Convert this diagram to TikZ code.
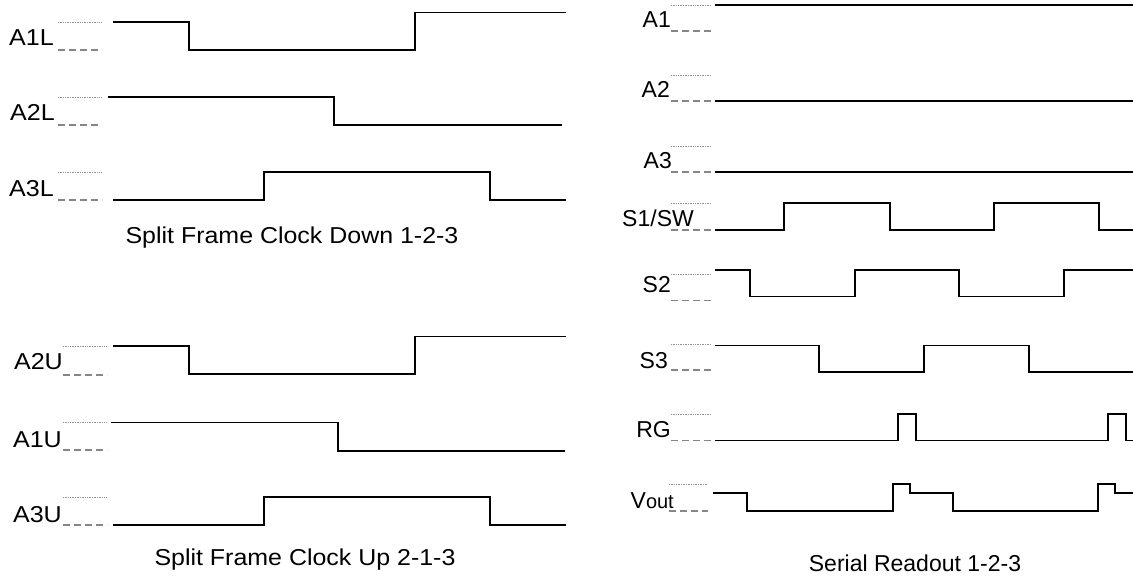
\documentclass[tikz,border=0pt]{standalone}
\usepackage{fontspec}
\setmainfont{Liberation Sans}
\begin{document}
\begin{tikzpicture}[x=1pt,y=-1pt,
  sig/.style={draw=black,line width=1.2pt,line join=miter},
  dotline/.style={draw=gray!85,line width=0.8pt,dash pattern=on 1pt off 0.7pt},
  dashline/.style={draw=gray!95,line width=1.1pt,dash pattern=on 7pt off 4pt},
  lbl/.style={anchor=base east,inner sep=0pt,font=\fontsize{23}{27}\selectfont},
  captxt/.style={anchor=base,inner sep=0pt,font=\fontsize{23}{27}\selectfont}]
\useasboundingbox (0,0) rectangle (1133,578);
\newcommand\reflines[4]{\draw[dotline] (#1,#3) -- (#2,#3); \draw[dashline] (#1,#4) -- (#2,#4);}
% ---------- left top: Split Frame Clock Down ----------
\reflines{58}{102}{22}{50}
\reflines{58}{102}{97}{125}
\reflines{58}{102}{172}{200}
\node[lbl] (a1l) at (54,46) {\scalebox{1.09}[1]{A1L}};
\node[lbl] (a2l) at (55,121) {\scalebox{1.09}[1]{A2L}};
\node[lbl] (a3l) at (54,196) {\scalebox{1.09}[1]{A3L}};
\draw[sig] (113,22) -- (189,22) -- (189,50) -- (415,50) -- (415,12.7) -- (566,12.7);
\draw[sig] (108,97) -- (334,97) -- (334,125) -- (562,125);
\draw[sig] (113,200) -- (264,200) -- (264,172) -- (490,172) -- (490,200) -- (566,200);
\node[captxt] (capd) at (292,243) {\scalebox{1.085}[1]{Split Frame Clock Down 1-2-3}};
% ---------- left bottom: Split Frame Clock Up ----------
\reflines{63}{107}{346.7}{375}
\reflines{63}{107}{422}{450}
\reflines{63}{107}{497}{525}
\node[lbl] (a2u) at (63,369) {\scalebox{1.09}[1]{A2U}};
\node[lbl] (a1u) at (62,447) {\scalebox{1.09}[1]{A1U}};
\node[lbl] (a3u) at (62,522) {\scalebox{1.09}[1]{A3U}};
\draw[sig] (113,346) -- (189,346) -- (189,374) -- (415,374) -- (415,336.7) -- (566,336.7);
\draw[sig] (111,422.7) -- (338,422.7) -- (338,451) -- (565,451);
\draw[sig] (113,525) -- (264,525) -- (264,497) -- (490,497) -- (490,525) -- (566,525);
\node[captxt] (capu) at (305,565) {\scalebox{1.085}[1]{Split Frame Clock Up 2-1-3}};
% ---------- right: Serial Readout ----------
\reflines{671}{711}{5}{31}
\reflines{671}{711}{75}{101}
\reflines{671}{711}{146}{172}
\reflines{671}{711}{203}{230}
\reflines{671}{711}{274}{300.7}
\reflines{671}{711}{344}{370}
\reflines{671}{711}{414}{440.7}
\reflines{669}{708}{484}{511}
\node[lbl] (ra1) at (671,28) {A1};
\node[lbl] (ra2) at (670,98) {A2};
\node[lbl] (ra3) at (672,168) {A3};
\node[lbl] (rs1) at (694,226) {S1/SW};
\node[lbl] (rs2) at (671,292) {S2};
\node[lbl] (rs3) at (668,368) {S3};
\node[lbl] (rrg) at (671,437) {RG};
\node[lbl] (rvo) at (674,508) {V{\fontsize{20}{24}\selectfont out}};
\draw[sig] (715,5) -- (1133,5);
\draw[sig] (715,101) -- (1133,101);
\draw[sig] (715,172) -- (1133,172);
\draw[sig] (715,230) -- (784,230) -- (784,203) -- (890,203) -- (890,230) -- (994,230) -- (994,203) -- (1099,203) -- (1099,230) -- (1133,230);
\draw[sig] (715,270) -- (750,270) -- (750,296.7) -- (855,296.7) -- (855,270) -- (959,270) -- (959,296.7) -- (1064,296.7) -- (1064,270) -- (1133,270);
\draw[sig] (715,345.7) -- (819,345.7) -- (819,372) -- (924,372) -- (924,345.7) -- (1029,345.7) -- (1029,372) -- (1133,372);
\draw[sig] (715,440.7) -- (898,440.7) -- (898,414) -- (916,414) -- (916,440.7) -- (1108,440.7) -- (1108,414) -- (1126,414) -- (1126,440.7) -- (1133,440.7);
\draw[sig] (713,493) -- (747,493) -- (747,511) -- (893,511) -- (893,484) -- (910,484) -- (910,493) -- (953,493) -- (953,511) -- (1098,511) -- (1098,484) -- (1115,484) -- (1115,493) -- (1133,493);
\node[captxt] (caps) at (915,571) {Serial Readout 1-2-3};
\end{tikzpicture}
\end{document}
